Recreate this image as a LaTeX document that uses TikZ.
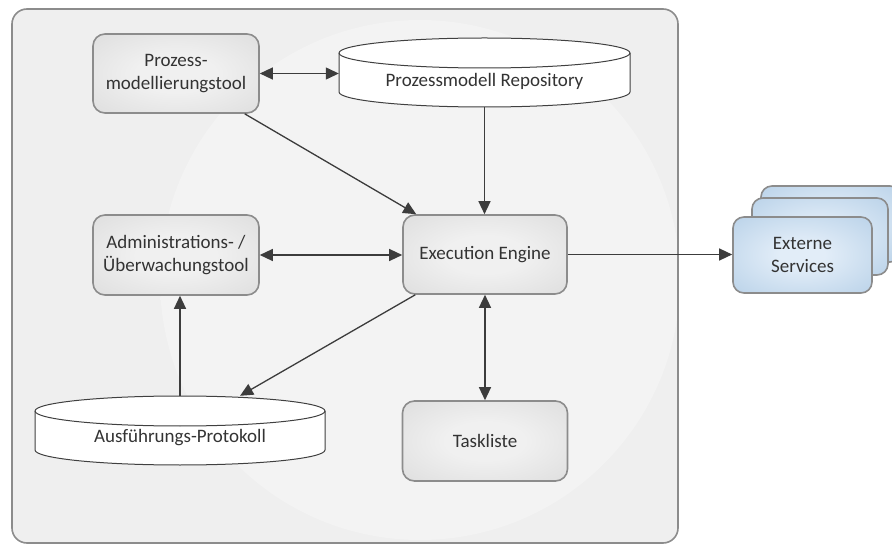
\documentclass[tikz,border=0pt]{standalone}
\usepackage{fontspec}
\setmainfont{Carlito}
\usetikzlibrary{arrows.meta,calc}

\definecolor{pagebg}{HTML}{FFFFFF}
\definecolor{panelbg}{HTML}{EFEFEF}
\definecolor{panelglow}{HTML}{F3F3F3}
\definecolor{frame}{HTML}{8C8C8C}
\definecolor{boxin}{HTML}{F0F0F0}
\definecolor{boxout}{HTML}{D4D4D4}
\definecolor{bluein}{HTML}{E2EDF8}
\definecolor{blueout}{HTML}{A6C5E1}
\definecolor{wire}{HTML}{3C3C3C}
\definecolor{ink}{HTML}{333333}

\pgfdeclareradialshading{greyglow}{\pgfpoint{0bp}{0bp}}{%
  color(0bp)=(boxin); color(12bp)=(boxin); color(50bp)=(boxout); color(72bp)=(boxout)}
\pgfdeclareradialshading{blueglow}{\pgfpoint{0bp}{0bp}}{%
  color(0bp)=(bluein); color(8bp)=(bluein); color(50bp)=(blueout); color(72bp)=(blueout)}
\pgfdeclareradialshading{panelshine}{\pgfpoint{0bp}{0bp}}{%
  color(0bp)=(panelglow); color(30bp)=(panelglow); color(50bp)=(panelbg); color(72bp)=(panelbg)}

\tikzset{
  lbl/.style={font=\fontsize{19}{23}\selectfont, text=ink, align=center},
  compbox/.style={lbl, draw=frame, line width=1.6pt, rounded corners=12pt,
    shading=greyglow, inner sep=0pt},
  svcbox/.style={lbl, draw=frame, line width=1.6pt, rounded corners=11pt,
    shading=blueglow, inner sep=0pt, minimum width=139pt, minimum height=76pt},
  store/.style={draw=none, inner sep=0pt},
  storeshape/.style={draw=black!75, line width=1pt, fill=white},
  tip/.tip={Triangle[length=13pt,width=12pt]},
  link/.style={draw=wire, line width=1.3pt, -tip},
  link2/.style={draw=wire, line width=1.3pt, tip-tip},
}

\begin{document}
\begin{tikzpicture}[x=1pt, y=-1pt]
  \useasboundingbox (0,0) rectangle (892,545);
  \fill[pagebg] (0,0) rectangle (892,545);

  % system panel with a soft light spot behind the engine
  \fill[panelbg, rounded corners=15pt] (12,9) rectangle (678,543);
  \begin{scope}
    \clip[rounded corners=15pt] (12,9) rectangle (678,543);
    \shade[shading=panelshine] (420,280) circle[radius=260];
  \end{scope}
  \draw[frame, line width=1.6pt, rounded corners=15pt]
    (12,9) rectangle (678,543);

  % components
  \node[compbox, minimum width=166pt, minimum height=79pt] (pm) at (176,73.5)
    {Prozess-\\modellierungstool};
  \node[compbox, minimum width=164pt, minimum height=79pt] (ee) at (485,254.5)
    {Execution Engine};
  \node[compbox, minimum width=166pt, minimum height=80pt] (adm) at (176,255)
    {Administrations- /\\Überwachungstool};
  \node[compbox, minimum width=165pt, minimum height=80pt] (task) at (485,441)
    {Taskliste};

  % data stores (cylinders)
  \node[store, minimum width=291pt, minimum height=69pt] (repo) at (484.5,72.5) {};
  \draw[storeshape]
    (339,53) -- (339,92) arc[start angle=180, end angle=0, x radius=145.5, y radius=15]
    -- (630,53) arc[start angle=0, end angle=-180, x radius=145.5, y radius=15] -- cycle;
  \draw[storeshape, fill=none]
    (339,53) arc[start angle=180, end angle=0, x radius=145.5, y radius=15];
  \node[lbl] (repotxt) at (484.5,81) {Prozessmodell Repository};

  \node[store, minimum width=290pt, minimum height=69pt] (prot) at (180,430.5) {};
  \draw[storeshape]
    (35,411) -- (35,450) arc[start angle=180, end angle=0, x radius=145, y radius=15]
    -- (325,411) arc[start angle=0, end angle=-180, x radius=145, y radius=15] -- cycle;
  \draw[storeshape, fill=none]
    (35,411) arc[start angle=180, end angle=0, x radius=145, y radius=15];
  \node[lbl] (prottxt) at (180,438) {Ausführungs-Protokoll};

  % external services (stacked)
  \node[svcbox, minimum width=140pt] (ext3) at (831,224) {};
  \node[svcbox, minimum width=136pt, minimum height=77pt] (ext2) at (820,236.5) {};
  \node[svcbox] (ext1) at (802.5,255) {Externe\\Services};

  % connectors
  \draw[link2] (pm.east) -- (pm.east -| repo.west);
  \draw[link] (pm) -- (ee);
  \draw[link] (repo.south) -- (repo.south |- ee.north);
  \draw[link2] (adm.east) -- (adm.east -| ee.west);
  \draw[link] (ee.east) -- (ee.east -| ext1.west);
  \draw[link] (ee) -- (prot);
  \draw[link] (prot.north) -- (prot.north |- adm.south);
  \draw[link2] (ee.south) -- (task.north);
\end{tikzpicture}
\end{document}
